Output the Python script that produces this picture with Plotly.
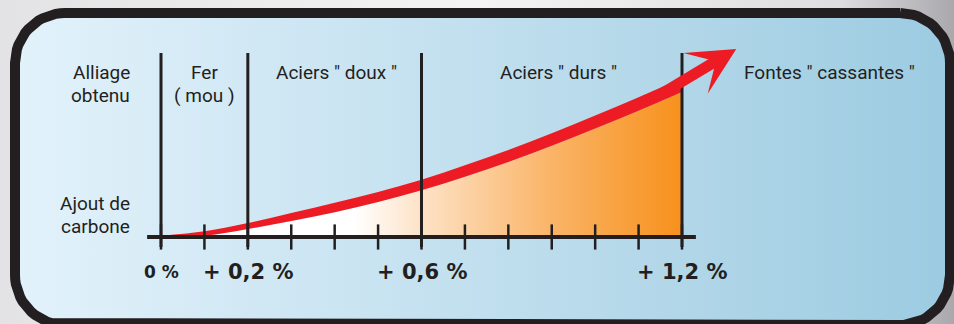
import numpy as np
import plotly.graph_objects as go

W, H = 954, 324

# Carbon added (%) at every tick of the scale
carbon = [0.0, 0.1, 0.2, 0.3, 0.4, 0.5, 0.6, 0.7, 0.8, 0.9, 1.0, 1.1, 1.2]
# Height of the hardness curve above the axis (arbitrary units)
hardness = [0.5, 3.5, 11, 20, 29.5, 40, 52, 66, 81, 97.5, 115, 133, 152]
# Thickness of the red band drawn along the curve
band = [1.5, 4.5, 6, 8, 9.5, 10, 10.5, 11.5, 12, 12.5, 13, 13.5, 14]

# Zone boundaries and their labels
zone_bounds = [0.0, 0.2, 0.6, 1.2]
bound_labels = ["0 %", "+ 0,2 %", "+ 0,6 %", "+ 1,2 %"]
bound_sizes = [17, 21, 21, 21]

zone_labels = [["Fer", "( mou )"], ['Aciers " doux "'], ['Aciers " durs "'], ['Fontes " cassantes "']]
zone_label_x = [0.1, 0.405, 0.915, 1.54]

row_title_top = ["Alliage", "obtenu"]
row_title_bottom = ["Ajout de", "carbone"]

# Arrow continuing the curve past 1,2 %
arrow_tail = (1.15, 142.5)
arrow_tip = (1.325, 188)

# Layout of the data axes on the page (pixels)
X0_PX, PX_PER_UNIT, AXIS_PX = 161, 434.17, 237

INK = "#231f20"
RED = "#ed1c24"
COND = "Roboto, Liberation Sans Narrow, sans-serif"
BOLD = "DejaVu Sans, Verdana, sans-serif"


def rounded_rect(x0, y0, x1, y1, r, n=18):
    xs, ys = [], []
    corners = [(x1 - r, y0 + r, -90, 0), (x1 - r, y1 - r, 0, 90),
               (x0 + r, y1 - r, 90, 180), (x0 + r, y0 + r, 180, 270)]
    for cx, cy, a0, a1 in corners:
        for a in np.linspace(np.radians(a0), np.radians(a1), n):
            xs.append(cx + r * np.cos(a))
            ys.append(cy + r * np.sin(a))
    xs.append(xs[0])
    ys.append(ys[0])
    return xs, ys


h = np.array(hardness, dtype=float)
t = np.array(band, dtype=float)
upper = h + t / 2
lower = np.maximum(h - t / 2, 0)

fig = go.Figure()

# page background (pixel axes)
fig.add_trace(go.Scatter(
    x=[0, W, W, 0, 0], y=[0, 0, H, H, 0], mode="lines", fill="toself",
    line=dict(width=0),
    fillgradient=dict(type="horizontal", colorscale=[
        [0, "#e3e3e5"], [0.5, "#f4f4f4"], [0.88, "#dedee0"], [1, "#a9a9ad"]]),
    hoverinfo="skip", xaxis="x", yaxis="y"))

# rounded frame with blue gradient
fx, fy = rounded_rect(15, 13, 950, 325, 50)
fig.add_trace(go.Scatter(
    x=fx, y=fy, mode="lines", fill="toself",
    line=dict(color=INK, width=10),
    fillgradient=dict(type="horizontal", colorscale=[
        [0, "#e2f2fb"], [0.5, "#c1dfee"], [1, "#9ccbe1"]]),
    hoverinfo="skip", xaxis="x", yaxis="y"))

# area under the curve, white to orange
fig.add_trace(go.Scatter(
    x=carbon, y=lower, mode="lines", fill="tozeroy",
    line=dict(width=0, shape="spline", smoothing=1),
    fillgradient=dict(type="horizontal", colorscale=[
        [0, "#ffffff"], [0.37, "#ffffff"], [0.5, "#fde2c6"],
        [0.75, "#fab467"], [1, "#f7911c"]]),
    hoverinfo="skip", xaxis="x2", yaxis="y2"))

# red tapered band
fig.add_trace(go.Scatter(
    x=carbon, y=upper, mode="lines", fill="tonexty", fillcolor=RED,
    line=dict(width=0, shape="spline", smoothing=1),
    hoverinfo="skip", xaxis="x2", yaxis="y2"))

# tick marks on the carbon axis
fig.add_trace(go.Scatter(
    x=carbon, y=[0] * len(carbon), mode="markers",
    marker=dict(symbol="line-ns", size=18, line=dict(color=INK, width=2.5)),
    hoverinfo="skip", xaxis="x2", yaxis="y2"))

shapes = [dict(type="line", xref="x2", yref="y2", layer="above",
               x0=-0.032, x1=1.232, y0=0, y1=0, line=dict(color=INK, width=4))]
for b in zone_bounds:
    shapes.append(dict(type="line", xref="x2", yref="y2", layer="above",
                       x0=b, x1=b, y0=-10, y1=184, line=dict(color=INK, width=3)))

ann = []
row_y = [165, 142]
for xl, lines in zip(zone_label_x, zone_labels):
    for k, txt in enumerate(lines):
        ann.append(dict(x=xl, y=row_y[k], xref="x2", yref="y2", text=txt, showarrow=False,
                        xanchor="center", yanchor="middle", font=dict(family=COND, size=19, color=INK)))
for k, txt in enumerate(row_title_top):
    ann.append(dict(x=-0.067, y=row_y[k], xref="x2", yref="y2", text=txt, showarrow=False,
                    xanchor="right", yanchor="middle", font=dict(family=COND, size=19, color=INK)))
for k, txt in enumerate(row_title_bottom):
    ann.append(dict(x=-0.067, y=[33.5, 11][k], xref="x2", yref="y2", text=txt, showarrow=False,
                    xanchor="right", yanchor="middle", font=dict(family=COND, size=19, color=INK)))
for b, txt, s in zip(zone_bounds, bound_labels, bound_sizes):
    ann.append(dict(x=b, y=-35, xref="x2", yref="y2", text="<b>" + txt + "</b>", showarrow=False,
                    xanchor="center", yanchor="middle", font=dict(family=BOLD, size=s, color=INK)))

# arrow head at the end of the curve
ann.append(dict(x=arrow_tip[0], y=arrow_tip[1], xref="x2", yref="y2",
                ax=arrow_tail[0], ay=arrow_tail[1], axref="x2", ayref="y2",
                text="", showarrow=True, arrowhead=3, arrowwidth=11, arrowsize=0.72,
                arrowcolor=RED, standoff=0))

xmin = -X0_PX / PX_PER_UNIT
xmax = (W - X0_PX) / PX_PER_UNIT
ymin = -(H - AXIS_PX)
ymax = AXIS_PX

fig.update_layout(
    width=W, height=H, margin=dict(l=0, r=0, t=0, b=0),
    paper_bgcolor="#e5e5e7", plot_bgcolor="rgba(0,0,0,0)", showlegend=False,
    xaxis=dict(range=[0, W], visible=False, fixedrange=True),
    yaxis=dict(range=[H, 0], visible=False, fixedrange=True),
    xaxis2=dict(range=[xmin, xmax], overlaying="x", anchor="y2", visible=False, fixedrange=True),
    yaxis2=dict(range=[ymin, ymax], overlaying="y", anchor="x2", visible=False, fixedrange=True),
    shapes=shapes, annotations=ann,
)

fig.write_html("out.html")
